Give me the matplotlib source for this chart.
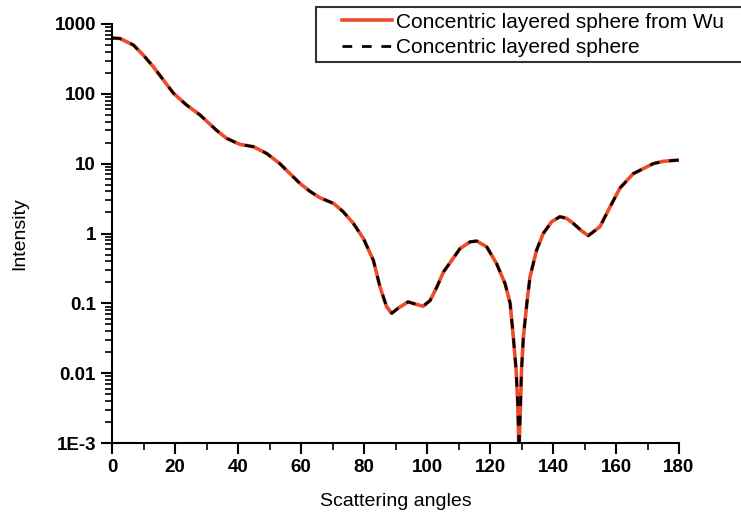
import numpy as np
import matplotlib.pyplot as plt
from matplotlib.ticker import FixedLocator, FixedFormatter, MultipleLocator
from matplotlib.patches import Rectangle

# values
angles = [0, 2.5, 6.8, 9.9, 13.1, 16.3, 19.5, 23.7, 27.9, 33.2, 36.4, 40.6, 44.9,
          49.1, 53.3, 56.5, 59.7, 62.9, 66, 70.3, 73.4, 76.6, 79.8, 83.0, 85.1, 87.2,
          88.8, 90.8, 94.0, 96.5, 98.8, 101, 103.1, 105.2, 107.8, 110.5, 113.7, 115.8,
          119, 122.1, 124.8, 126.4, 127.4, 128.3, 128.8, 129.2, 129.7, 130.0, 130.6,
          131.7, 132.7, 134.8, 136.9, 139.6, 142.2, 144.3, 146.4, 149, 151.2,
          154.9, 158.1, 161.3, 165.5, 168.7, 171.8, 175, 179.2, 180]
intensity = [630, 620, 500, 360, 245, 158, 102, 69, 50, 30, 23, 18.9, 17.5,
             14, 10, 7.2, 5.2, 4.0, 3.25, 2.7, 2.05, 1.4, 0.85, 0.41, 0.17, 0.089,
             0.072, 0.085, 0.105, 0.097, 0.091, 0.11, 0.17, 0.28, 0.41, 0.61, 0.76, 0.78,
             0.64, 0.37, 0.19, 0.1, 0.033, 0.011, 0.0037, 0.0008, 0.0037, 0.011, 0.033,
             0.1, 0.24, 0.58, 1.0, 1.48, 1.74, 1.65, 1.4, 1.1, 0.93,
             1.25, 2.4, 4.5, 7.2, 8.5, 10, 10.8, 11.2, 11.2]

ytick_vals = [1e-3, 1e-2, 1e-1, 1, 10, 100, 1000]
ytick_labels = ['1E-3', '0.01', '0.1', '1', '10', '100', '1000']

plt.rcParams['font.family'] = ['Liberation Sans', 'DejaVu Sans']

fig = plt.figure(figsize=(7.41, 5.13), dpi=100)
ax = fig.add_axes([112/741, 1-443/513, (679-112)/741, (443-24)/513])

red = '#ee4b2b'
ax.plot(angles, intensity, color=red, lw=2.6, label='Concentric layered sphere from Wu')
ax.plot(angles, intensity, color='black', lw=2.0, ls=(0, (3.5, 3.5)), label='Concentric layered sphere')

ax.set_yscale('log')
ax.set_xlim(0, 180)
ax.set_ylim(1e-3, 1000)

ax.yaxis.set_major_locator(FixedLocator(ytick_vals))
ax.yaxis.set_major_formatter(FixedFormatter(ytick_labels))
ax.xaxis.set_major_locator(MultipleLocator(20))
ax.xaxis.set_minor_locator(MultipleLocator(10))

for s in ['top', 'right']:
    ax.spines[s].set_visible(False)
for s in ['left', 'bottom']:
    ax.spines[s].set_linewidth(1.5)

ax.tick_params(which='major', direction='out', length=8, width=1.5, labelsize=13.5)
ax.tick_params(which='minor', direction='out', length=5, width=1.2)
for lab in ax.get_xticklabels() + ax.get_yticklabels():
    lab.set_fontweight('bold')

ax.set_xlabel('Scattering angles', fontsize=14, labelpad=12)
ax.set_ylabel('Intensity', fontsize=14, labelpad=19)

# legend box runs off the right edge in the original
fig.patches.append(Rectangle((316/741, 1-62/513), 0.6, 55/513, transform=fig.transFigure,
                             facecolor='white', edgecolor='#333333', lw=1.5, zorder=5))
handles, labels = ax.get_legend_handles_labels()
leg = fig.legend(handles, labels, loc='center left', bbox_to_anchor=(342/741, 1-35/513),
                 fontsize=15, frameon=False,
                 handlelength=2.4, handletextpad=0.2,
                 borderpad=0, labelspacing=0.32, borderaxespad=0)
leg.set_zorder(6)

fig.savefig('out.png', dpi=100)
